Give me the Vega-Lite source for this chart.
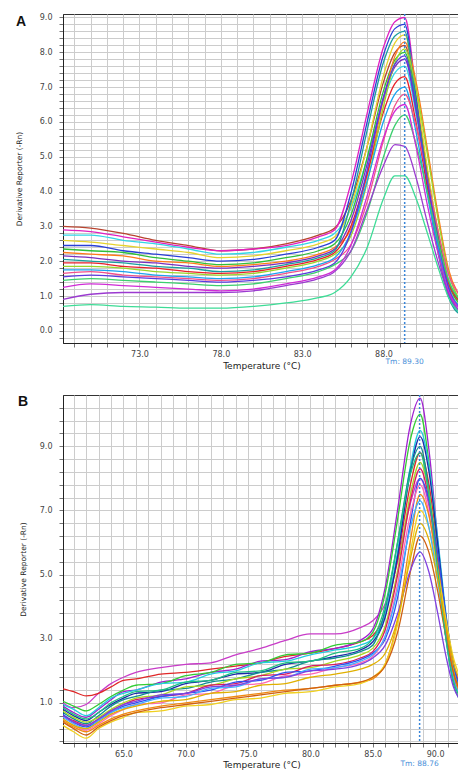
{
"$schema": "https://vega.github.io/schema/vega-lite/v6.json",
"background": "white",
"padding": {"left": 14, "top": 12, "right": 0, "bottom": 0},
"bounds": "flush",
"spacing": 52,
"config": {
  "view": {"stroke": "#333", "strokeWidth": 1},
  "font": "DejaVu Sans",
  "axis": {"gridColor": "#cccccc", "gridWidth": 1, "gridOpacity": 1, "domainColor": "#222", "tickColor": "#777", "tickSize": 4, "tickCount": 200, "labelFont": "DejaVu Sans", "labelFontSize": 8, "labelColor": "#444", "titleFont": "DejaVu Sans", "titleFontWeight": "normal", "titleColor": "#222", "labelOverlap": false, "labelFlush": false, "labelBound": false}
},
"datasets": {
"tm": [{"p": "A", "tm": 89.3, "label": "Tm: 89.30"}, {"p": "B", "tm": 88.76, "label": "Tm: 88.76"}],
"a": [
{"c":"a01","t":68.3,"v":3.0},{"c":"a01","t":70,"v":2.95},{"c":"a01","t":72,"v":2.8},{"c":"a01","t":74,"v":2.6},{"c":"a01","t":76,"v":2.45},{"c":"a01","t":78,"v":2.3},{"c":"a01","t":80,"v":2.35},{"c":"a01","t":82,"v":2.5},{"c":"a01","t":84,"v":2.75},{"c":"a01","t":85,"v":2.95},{"c":"a01","t":86,"v":3.74},{"c":"a01","t":87,"v":5.31},{"c":"a01","t":88,"v":7.15},{"c":"a01","t":88.7,"v":7.99},{"c":"a01","t":89.3,"v":8.2},{"c":"a01","t":90,"v":6.68},{"c":"a01","t":90.7,"v":4.55},{"c":"a01","t":91.4,"v":2.73},{"c":"a01","t":92,"v":1.44},{"c":"a01","t":92.7,"v":0.83},
{"c":"a02","t":68.3,"v":2.9},{"c":"a02","t":70,"v":2.85},{"c":"a02","t":72,"v":2.7},{"c":"a02","t":74,"v":2.55},{"c":"a02","t":76,"v":2.4},{"c":"a02","t":78,"v":2.3},{"c":"a02","t":80,"v":2.35},{"c":"a02","t":82,"v":2.45},{"c":"a02","t":84,"v":2.7},{"c":"a02","t":85,"v":2.9},{"c":"a02","t":86,"v":4.24},{"c":"a02","t":87,"v":6.26},{"c":"a02","t":88,"v":8.15},{"c":"a02","t":88.7,"v":8.88},{"c":"a02","t":89.3,"v":9.0},{"c":"a02","t":90,"v":6.85},{"c":"a02","t":90.7,"v":4.27},{"c":"a02","t":91.4,"v":2.29},{"c":"a02","t":92,"v":1.09},{"c":"a02","t":92.7,"v":0.57},
{"c":"a03","t":68.3,"v":2.75},{"c":"a03","t":70,"v":2.75},{"c":"a03","t":72,"v":2.6},{"c":"a03","t":74,"v":2.5},{"c":"a03","t":76,"v":2.35},{"c":"a03","t":78,"v":2.2},{"c":"a03","t":80,"v":2.25},{"c":"a03","t":82,"v":2.4},{"c":"a03","t":84,"v":2.6},{"c":"a03","t":85,"v":2.8},{"c":"a03","t":86,"v":3.52},{"c":"a03","t":87,"v":4.96},{"c":"a03","t":88,"v":6.64},{"c":"a03","t":88.7,"v":7.41},{"c":"a03","t":89.3,"v":7.6},{"c":"a03","t":90,"v":6.22},{"c":"a03","t":90.7,"v":4.29},{"c":"a03","t":91.4,"v":2.63},{"c":"a03","t":92,"v":1.46},{"c":"a03","t":92.7,"v":0.91},
{"c":"a04","t":68.3,"v":2.6},{"c":"a04","t":70,"v":2.55},{"c":"a04","t":72,"v":2.45},{"c":"a04","t":74,"v":2.35},{"c":"a04","t":76,"v":2.25},{"c":"a04","t":78,"v":2.1},{"c":"a04","t":80,"v":2.15},{"c":"a04","t":82,"v":2.3},{"c":"a04","t":84,"v":2.5},{"c":"a04","t":85,"v":2.7},{"c":"a04","t":86,"v":3.57},{"c":"a04","t":87,"v":5.31},{"c":"a04","t":88,"v":7.34},{"c":"a04","t":88.7,"v":8.27},{"c":"a04","t":89.3,"v":8.5},{"c":"a04","t":90,"v":6.9},{"c":"a04","t":90.7,"v":4.66},{"c":"a04","t":91.4,"v":2.74},{"c":"a04","t":92,"v":1.38},{"c":"a04","t":92.7,"v":0.74},
{"c":"a05","t":68.3,"v":2.45},{"c":"a05","t":70,"v":2.45},{"c":"a05","t":72,"v":2.3},{"c":"a05","t":74,"v":2.2},{"c":"a05","t":76,"v":2.1},{"c":"a05","t":78,"v":2.0},{"c":"a05","t":80,"v":2.05},{"c":"a05","t":82,"v":2.2},{"c":"a05","t":84,"v":2.4},{"c":"a05","t":85,"v":2.6},{"c":"a05","t":86,"v":3.96},{"c":"a05","t":87,"v":6.01},{"c":"a05","t":88,"v":7.93},{"c":"a05","t":88.7,"v":8.68},{"c":"a05","t":89.3,"v":8.8},{"c":"a05","t":90,"v":6.69},{"c":"a05","t":90.7,"v":4.15},{"c":"a05","t":91.4,"v":2.21},{"c":"a05","t":92,"v":1.03},{"c":"a05","t":92.7,"v":0.52},
{"c":"a06","t":68.3,"v":2.35},{"c":"a06","t":70,"v":2.3},{"c":"a06","t":72,"v":2.25},{"c":"a06","t":74,"v":2.1},{"c":"a06","t":76,"v":2.0},{"c":"a06","t":78,"v":1.9},{"c":"a06","t":80,"v":1.95},{"c":"a06","t":82,"v":2.1},{"c":"a06","t":84,"v":2.3},{"c":"a06","t":85,"v":2.5},{"c":"a06","t":86,"v":3.33},{"c":"a06","t":87,"v":4.98},{"c":"a06","t":88,"v":6.9},{"c":"a06","t":88.7,"v":7.78},{"c":"a06","t":89.3,"v":8.0},{"c":"a06","t":90,"v":6.51},{"c":"a06","t":90.7,"v":4.42},{"c":"a06","t":91.4,"v":2.64},{"c":"a06","t":92,"v":1.37},{"c":"a06","t":92.7,"v":0.77},
{"c":"a07","t":68.3,"v":2.25},{"c":"a07","t":70,"v":2.2},{"c":"a07","t":72,"v":2.15},{"c":"a07","t":74,"v":2.0},{"c":"a07","t":76,"v":1.95},{"c":"a07","t":78,"v":1.85},{"c":"a07","t":80,"v":1.9},{"c":"a07","t":82,"v":2.0},{"c":"a07","t":84,"v":2.2},{"c":"a07","t":85,"v":2.4},{"c":"a07","t":86,"v":2.93},{"c":"a07","t":87,"v":4.47},{"c":"a07","t":88,"v":6.65},{"c":"a07","t":88.7,"v":7.89},{"c":"a07","t":89.3,"v":8.3},{"c":"a07","t":90,"v":7.15},{"c":"a07","t":90.7,"v":5.22},{"c":"a07","t":91.4,"v":3.22},{"c":"a07","t":92,"v":1.76},{"c":"a07","t":92.7,"v":0.99},
{"c":"a08","t":68.3,"v":2.15},{"c":"a08","t":70,"v":2.1},{"c":"a08","t":72,"v":2.0},{"c":"a08","t":74,"v":1.95},{"c":"a08","t":76,"v":1.85},{"c":"a08","t":78,"v":1.8},{"c":"a08","t":80,"v":1.85},{"c":"a08","t":82,"v":1.95},{"c":"a08","t":84,"v":2.15},{"c":"a08","t":85,"v":2.35},{"c":"a08","t":86,"v":3.17},{"c":"a08","t":87,"v":4.8},{"c":"a08","t":88,"v":6.71},{"c":"a08","t":88.7,"v":7.58},{"c":"a08","t":89.3,"v":7.8},{"c":"a08","t":90,"v":6.33},{"c":"a08","t":90.7,"v":4.27},{"c":"a08","t":91.4,"v":2.51},{"c":"a08","t":92,"v":1.26},{"c":"a08","t":92.7,"v":0.67},
{"c":"a09","t":68.3,"v":2.05},{"c":"a09","t":70,"v":2.0},{"c":"a09","t":72,"v":1.95},{"c":"a09","t":74,"v":1.85},{"c":"a09","t":76,"v":1.8},{"c":"a09","t":78,"v":1.7},{"c":"a09","t":80,"v":1.75},{"c":"a09","t":82,"v":1.9},{"c":"a09","t":84,"v":2.1},{"c":"a09","t":85,"v":2.3},{"c":"a09","t":86,"v":3.69},{"c":"a09","t":87,"v":5.77},{"c":"a09","t":88,"v":7.72},{"c":"a09","t":88.7,"v":8.47},{"c":"a09","t":89.3,"v":8.6},{"c":"a09","t":90,"v":6.53},{"c":"a09","t":90.7,"v":4.04},{"c":"a09","t":91.4,"v":2.13},{"c":"a09","t":92,"v":0.96},{"c":"a09","t":92.7,"v":0.47},
{"c":"a10","t":68.3,"v":1.95},{"c":"a10","t":70,"v":1.95},{"c":"a10","t":72,"v":1.85},{"c":"a10","t":74,"v":1.8},{"c":"a10","t":76,"v":1.7},{"c":"a10","t":78,"v":1.65},{"c":"a10","t":80,"v":1.7},{"c":"a10","t":82,"v":1.85},{"c":"a10","t":84,"v":2.05},{"c":"a10","t":85,"v":2.25},{"c":"a10","t":86,"v":3.01},{"c":"a10","t":87,"v":4.52},{"c":"a10","t":88,"v":6.29},{"c":"a10","t":88.7,"v":7.1},{"c":"a10","t":89.3,"v":7.3},{"c":"a10","t":90,"v":5.97},{"c":"a10","t":90.7,"v":4.11},{"c":"a10","t":91.4,"v":2.51},{"c":"a10","t":92,"v":1.38},{"c":"a10","t":92.7,"v":0.85},
{"c":"a11","t":68.3,"v":1.85},{"c":"a11","t":70,"v":1.85},{"c":"a11","t":72,"v":1.8},{"c":"a11","t":74,"v":1.7},{"c":"a11","t":76,"v":1.65},{"c":"a11","t":78,"v":1.6},{"c":"a11","t":80,"v":1.65},{"c":"a11","t":82,"v":1.8},{"c":"a11","t":84,"v":2.0},{"c":"a11","t":85,"v":2.2},{"c":"a11","t":86,"v":2.73},{"c":"a11","t":87,"v":4.27},{"c":"a11","t":88,"v":6.45},{"c":"a11","t":88.7,"v":7.69},{"c":"a11","t":89.3,"v":8.1},{"c":"a11","t":90,"v":6.96},{"c":"a11","t":90.7,"v":5.06},{"c":"a11","t":91.4,"v":3.08},{"c":"a11","t":92,"v":1.64},{"c":"a11","t":92.7,"v":0.88},
{"c":"a12","t":68.3,"v":1.75},{"c":"a12","t":70,"v":1.75},{"c":"a12","t":72,"v":1.7},{"c":"a12","t":74,"v":1.6},{"c":"a12","t":76,"v":1.55},{"c":"a12","t":78,"v":1.5},{"c":"a12","t":80,"v":1.55},{"c":"a12","t":82,"v":1.7},{"c":"a12","t":84,"v":1.9},{"c":"a12","t":85,"v":2.1},{"c":"a12","t":86,"v":2.84},{"c":"a12","t":87,"v":4.31},{"c":"a12","t":88,"v":6.02},{"c":"a12","t":88.7,"v":6.8},{"c":"a12","t":89.3,"v":7.0},{"c":"a12","t":90,"v":5.7},{"c":"a12","t":90.7,"v":3.88},{"c":"a12","t":91.4,"v":2.32},{"c":"a12","t":92,"v":1.22},{"c":"a12","t":92.7,"v":0.7},
{"c":"a13","t":68.3,"v":1.65},{"c":"a13","t":70,"v":1.7},{"c":"a13","t":72,"v":1.6},{"c":"a13","t":74,"v":1.55},{"c":"a13","t":76,"v":1.5},{"c":"a13","t":78,"v":1.45},{"c":"a13","t":80,"v":1.5},{"c":"a13","t":82,"v":1.65},{"c":"a13","t":84,"v":1.85},{"c":"a13","t":85,"v":2.05},{"c":"a13","t":86,"v":2.48},{"c":"a13","t":87,"v":3.71},{"c":"a13","t":88,"v":5.47},{"c":"a13","t":88.7,"v":6.47},{"c":"a13","t":89.3,"v":6.8},{"c":"a13","t":90,"v":5.89},{"c":"a13","t":90.7,"v":4.36},{"c":"a13","t":91.4,"v":2.77},{"c":"a13","t":92,"v":1.62},{"c":"a13","t":92.7,"v":1.01},
{"c":"a14","t":68.3,"v":1.55},{"c":"a14","t":70,"v":1.6},{"c":"a14","t":72,"v":1.55},{"c":"a14","t":74,"v":1.5},{"c":"a14","t":76,"v":1.45},{"c":"a14","t":78,"v":1.4},{"c":"a14","t":80,"v":1.45},{"c":"a14","t":82,"v":1.55},{"c":"a14","t":84,"v":1.75},{"c":"a14","t":85,"v":1.95},{"c":"a14","t":86,"v":2.84},{"c":"a14","t":87,"v":4.63},{"c":"a14","t":88,"v":6.71},{"c":"a14","t":88.7,"v":7.66},{"c":"a14","t":89.3,"v":7.9},{"c":"a14","t":90,"v":6.4},{"c":"a14","t":90.7,"v":4.3},{"c":"a14","t":91.4,"v":2.5},{"c":"a14","t":92,"v":1.23},{"c":"a14","t":92.7,"v":0.63},
{"c":"a15","t":68.3,"v":1.45},{"c":"a15","t":70,"v":1.5},{"c":"a15","t":72,"v":1.45},{"c":"a15","t":74,"v":1.4},{"c":"a15","t":76,"v":1.35},{"c":"a15","t":78,"v":1.3},{"c":"a15","t":80,"v":1.35},{"c":"a15","t":82,"v":1.5},{"c":"a15","t":84,"v":1.7},{"c":"a15","t":85,"v":1.9},{"c":"a15","t":86,"v":2.29},{"c":"a15","t":87,"v":3.41},{"c":"a15","t":88,"v":5.0},{"c":"a15","t":88.7,"v":5.9},{"c":"a15","t":89.3,"v":6.2},{"c":"a15","t":90,"v":5.36},{"c":"a15","t":90.7,"v":3.96},{"c":"a15","t":91.4,"v":2.5},{"c":"a15","t":92,"v":1.44},{"c":"a15","t":92.7,"v":0.88},
{"c":"a16","t":68.3,"v":1.25},{"c":"a16","t":70,"v":1.35},{"c":"a16","t":72,"v":1.3},{"c":"a16","t":74,"v":1.25},{"c":"a16","t":76,"v":1.2},{"c":"a16","t":78,"v":1.15},{"c":"a16","t":80,"v":1.2},{"c":"a16","t":82,"v":1.35},{"c":"a16","t":84,"v":1.55},{"c":"a16","t":85,"v":1.75},{"c":"a16","t":86,"v":2.46},{"c":"a16","t":87,"v":3.89},{"c":"a16","t":88,"v":5.55},{"c":"a16","t":88.7,"v":6.31},{"c":"a16","t":89.3,"v":6.5},{"c":"a16","t":90,"v":5.29},{"c":"a16","t":90.7,"v":3.6},{"c":"a16","t":91.4,"v":2.14},{"c":"a16","t":92,"v":1.12},{"c":"a16","t":92.7,"v":0.63},
{"c":"a17","t":68.3,"v":0.9},{"c":"a17","t":70,"v":1.05},{"c":"a17","t":72,"v":1.1},{"c":"a17","t":74,"v":1.1},{"c":"a17","t":76,"v":1.1},{"c":"a17","t":78,"v":1.1},{"c":"a17","t":80,"v":1.15},{"c":"a17","t":82,"v":1.3},{"c":"a17","t":84,"v":1.5},{"c":"a17","t":85,"v":1.7},{"c":"a17","t":86,"v":2.3},{"c":"a17","t":87,"v":3.5},{"c":"a17","t":88,"v":4.75},{"c":"a17","t":88.7,"v":5.35},{"c":"a17","t":89.3,"v":5.3},{"c":"a17","t":90,"v":4.4},{"c":"a17","t":90.7,"v":3.1},{"c":"a17","t":91.4,"v":1.9},{"c":"a17","t":92,"v":1.05},{"c":"a17","t":92.7,"v":0.55},
{"c":"a18","t":68.3,"v":0.7},{"c":"a18","t":70,"v":0.75},{"c":"a18","t":72,"v":0.7},{"c":"a18","t":74,"v":0.68},{"c":"a18","t":76,"v":0.65},{"c":"a18","t":78,"v":0.65},{"c":"a18","t":80,"v":0.7},{"c":"a18","t":82,"v":0.8},{"c":"a18","t":84,"v":0.95},{"c":"a18","t":85,"v":1.1},{"c":"a18","t":86,"v":1.55},{"c":"a18","t":87,"v":2.4},{"c":"a18","t":88,"v":3.8},{"c":"a18","t":88.7,"v":4.45},{"c":"a18","t":89.3,"v":4.45},{"c":"a18","t":90,"v":3.8},{"c":"a18","t":90.7,"v":2.8},{"c":"a18","t":91.4,"v":1.75},{"c":"a18","t":92,"v":0.95},{"c":"a18","t":92.7,"v":0.5}
],
"b": [
{"c":"b01","t":60.15,"v":1.0},{"c":"b01","t":61,"v":0.85},{"c":"b01","t":62,"v":0.95},{"c":"b01","t":63,"v":1.3},{"c":"b01","t":64,"v":1.6},{"c":"b01","t":65,"v":1.8},{"c":"b01","t":66,"v":1.95},{"c":"b01","t":68,"v":2.1},{"c":"b01","t":70,"v":2.2},{"c":"b01","t":72,"v":2.25},{"c":"b01","t":74,"v":2.5},{"c":"b01","t":76,"v":2.7},{"c":"b01","t":78,"v":2.95},{"c":"b01","t":80,"v":3.15},{"c":"b01","t":82,"v":3.15},{"c":"b01","t":84,"v":3.35},{"c":"b01","t":85,"v":3.56},{"c":"b01","t":86,"v":4.09},{"c":"b01","t":87,"v":5.42},{"c":"b01","t":88,"v":7.2},{"c":"b01","t":88.8,"v":8.0},{"c":"b01","t":89.5,"v":7.16},{"c":"b01","t":90.2,"v":5.4},{"c":"b01","t":90.9,"v":3.45},{"c":"b01","t":91.5,"v":2.15},{"c":"b01","t":92,"v":1.63},
{"c":"b02","t":60.15,"v":1.44},{"c":"b02","t":61,"v":1.35},{"c":"b02","t":62,"v":1.22},{"c":"b02","t":63,"v":1.3},{"c":"b02","t":64,"v":1.5},{"c":"b02","t":65,"v":1.7},{"c":"b02","t":66,"v":1.75},{"c":"b02","t":68,"v":1.9},{"c":"b02","t":70,"v":1.95},{"c":"b02","t":72,"v":2.05},{"c":"b02","t":74,"v":2.15},{"c":"b02","t":76,"v":2.25},{"c":"b02","t":78,"v":2.45},{"c":"b02","t":80,"v":2.55},{"c":"b02","t":82,"v":2.7},{"c":"b02","t":84,"v":2.9},{"c":"b02","t":85,"v":3.1},{"c":"b02","t":86,"v":3.78},{"c":"b02","t":87,"v":5.49},{"c":"b02","t":88,"v":7.77},{"c":"b02","t":88.8,"v":8.8},{"c":"b02","t":89.5,"v":7.84},{"c":"b02","t":90.2,"v":5.84},{"c":"b02","t":90.9,"v":3.62},{"c":"b02","t":91.5,"v":2.14},{"c":"b02","t":92,"v":1.55},
{"c":"b03","t":60.15,"v":0.9},{"c":"b03","t":61,"v":0.7},{"c":"b03","t":62,"v":0.55},{"c":"b03","t":63,"v":0.8},{"c":"b03","t":64,"v":1.1},{"c":"b03","t":65,"v":1.35},{"c":"b03","t":66,"v":1.4},{"c":"b03","t":68,"v":1.65},{"c":"b03","t":70,"v":1.75},{"c":"b03","t":72,"v":1.95},{"c":"b03","t":74,"v":2.05},{"c":"b03","t":76,"v":2.3},{"c":"b03","t":78,"v":2.35},{"c":"b03","t":80,"v":2.6},{"c":"b03","t":82,"v":2.7},{"c":"b03","t":84,"v":2.95},{"c":"b03","t":85,"v":3.3},{"c":"b03","t":86,"v":4.6},{"c":"b03","t":87,"v":7.04},{"c":"b03","t":88,"v":9.64},{"c":"b03","t":88.8,"v":10.5},{"c":"b03","t":89.5,"v":8.92},{"c":"b03","t":90.2,"v":6.13},{"c":"b03","t":90.9,"v":3.43},{"c":"b03","t":91.5,"v":1.85},{"c":"b03","t":92,"v":1.29},
{"c":"b04","t":60.15,"v":1.05},{"c":"b04","t":61,"v":0.9},{"c":"b04","t":62,"v":0.75},{"c":"b04","t":63,"v":0.95},{"c":"b04","t":64,"v":1.2},{"c":"b04","t":65,"v":1.4},{"c":"b04","t":66,"v":1.55},{"c":"b04","t":68,"v":1.6},{"c":"b04","t":70,"v":1.85},{"c":"b04","t":72,"v":1.95},{"c":"b04","t":74,"v":2.2},{"c":"b04","t":76,"v":2.25},{"c":"b04","t":78,"v":2.5},{"c":"b04","t":80,"v":2.55},{"c":"b04","t":82,"v":2.8},{"c":"b04","t":84,"v":2.9},{"c":"b04","t":85,"v":3.2},{"c":"b04","t":86,"v":4.42},{"c":"b04","t":87,"v":6.74},{"c":"b04","t":88,"v":9.18},{"c":"b04","t":88.8,"v":10.0},{"c":"b04","t":89.5,"v":8.52},{"c":"b04","t":90.2,"v":5.91},{"c":"b04","t":90.9,"v":3.39},{"c":"b04","t":91.5,"v":1.91},{"c":"b04","t":92,"v":1.39},
{"c":"b05","t":60.15,"v":0.95},{"c":"b05","t":61,"v":0.8},{"c":"b05","t":62,"v":0.6},{"c":"b05","t":63,"v":0.85},{"c":"b05","t":64,"v":1.15},{"c":"b05","t":65,"v":1.3},{"c":"b05","t":66,"v":1.4},{"c":"b05","t":68,"v":1.6},{"c":"b05","t":70,"v":1.65},{"c":"b05","t":72,"v":1.9},{"c":"b05","t":74,"v":2.0},{"c":"b05","t":76,"v":2.25},{"c":"b05","t":78,"v":2.3},{"c":"b05","t":80,"v":2.5},{"c":"b05","t":82,"v":2.65},{"c":"b05","t":84,"v":2.8},{"c":"b05","t":85,"v":3.0},{"c":"b05","t":86,"v":3.78},{"c":"b05","t":87,"v":5.73},{"c":"b05","t":88,"v":8.33},{"c":"b05","t":88.8,"v":9.5},{"c":"b05","t":89.5,"v":8.42},{"c":"b05","t":90.2,"v":6.18},{"c":"b05","t":90.9,"v":3.69},{"c":"b05","t":91.5,"v":2.03},{"c":"b05","t":92,"v":1.37},
{"c":"b06","t":60.15,"v":0.8},{"c":"b06","t":61,"v":0.6},{"c":"b06","t":62,"v":0.45},{"c":"b06","t":63,"v":0.7},{"c":"b06","t":64,"v":0.95},{"c":"b06","t":65,"v":1.15},{"c":"b06","t":66,"v":1.3},{"c":"b06","t":68,"v":1.35},{"c":"b06","t":70,"v":1.6},{"c":"b06","t":72,"v":1.7},{"c":"b06","t":74,"v":1.9},{"c":"b06","t":76,"v":1.95},{"c":"b06","t":78,"v":2.2},{"c":"b06","t":80,"v":2.3},{"c":"b06","t":82,"v":2.45},{"c":"b06","t":84,"v":2.65},{"c":"b06","t":85,"v":2.9},{"c":"b06","t":86,"v":3.67},{"c":"b06","t":87,"v":5.59},{"c":"b06","t":88,"v":8.15},{"c":"b06","t":88.8,"v":9.3},{"c":"b06","t":89.5,"v":8.23},{"c":"b06","t":90.2,"v":6.02},{"c":"b06","t":90.9,"v":3.56},{"c":"b06","t":91.5,"v":1.92},{"c":"b06","t":92,"v":1.26},
{"c":"b07","t":60.15,"v":0.7},{"c":"b07","t":61,"v":0.5},{"c":"b07","t":62,"v":0.35},{"c":"b07","t":63,"v":0.6},{"c":"b07","t":64,"v":0.9},{"c":"b07","t":65,"v":1.1},{"c":"b07","t":66,"v":1.2},{"c":"b07","t":68,"v":1.4},{"c":"b07","t":70,"v":1.45},{"c":"b07","t":72,"v":1.65},{"c":"b07","t":74,"v":1.75},{"c":"b07","t":76,"v":1.95},{"c":"b07","t":78,"v":2.05},{"c":"b07","t":80,"v":2.3},{"c":"b07","t":82,"v":2.4},{"c":"b07","t":84,"v":2.6},{"c":"b07","t":85,"v":2.8},{"c":"b07","t":86,"v":3.92},{"c":"b07","t":87,"v":6.02},{"c":"b07","t":88,"v":8.26},{"c":"b07","t":88.8,"v":9.0},{"c":"b07","t":89.5,"v":7.64},{"c":"b07","t":90.2,"v":5.24},{"c":"b07","t":90.9,"v":2.92},{"c":"b07","t":91.5,"v":1.56},{"c":"b07","t":92,"v":1.08},
{"c":"b08","t":60.15,"v":0.75},{"c":"b08","t":61,"v":0.55},{"c":"b08","t":62,"v":0.4},{"c":"b08","t":63,"v":0.55},{"c":"b08","t":64,"v":0.8},{"c":"b08","t":65,"v":1.0},{"c":"b08","t":66,"v":1.15},{"c":"b08","t":68,"v":1.25},{"c":"b08","t":70,"v":1.5},{"c":"b08","t":72,"v":1.55},{"c":"b08","t":74,"v":1.75},{"c":"b08","t":76,"v":1.85},{"c":"b08","t":78,"v":2.05},{"c":"b08","t":80,"v":2.1},{"c":"b08","t":82,"v":2.3},{"c":"b08","t":84,"v":2.5},{"c":"b08","t":85,"v":2.7},{"c":"b08","t":86,"v":3.4},{"c":"b08","t":87,"v":5.14},{"c":"b08","t":88,"v":7.46},{"c":"b08","t":88.8,"v":8.5},{"c":"b08","t":89.5,"v":7.56},{"c":"b08","t":90.2,"v":5.62},{"c":"b08","t":90.9,"v":3.46},{"c":"b08","t":91.5,"v":2.02},{"c":"b08","t":92,"v":1.44},
{"c":"b09","t":60.15,"v":0.6},{"c":"b09","t":61,"v":0.45},{"c":"b09","t":62,"v":0.3},{"c":"b09","t":63,"v":0.5},{"c":"b09","t":64,"v":0.75},{"c":"b09","t":65,"v":0.95},{"c":"b09","t":66,"v":1.1},{"c":"b09","t":68,"v":1.2},{"c":"b09","t":70,"v":1.3},{"c":"b09","t":72,"v":1.55},{"c":"b09","t":74,"v":1.6},{"c":"b09","t":76,"v":1.85},{"c":"b09","t":78,"v":1.9},{"c":"b09","t":80,"v":2.15},{"c":"b09","t":82,"v":2.2},{"c":"b09","t":84,"v":2.4},{"c":"b09","t":85,"v":2.6},{"c":"b09","t":86,"v":3.28},{"c":"b09","t":87,"v":4.99},{"c":"b09","t":88,"v":7.27},{"c":"b09","t":88.8,"v":8.3},{"c":"b09","t":89.5,"v":7.36},{"c":"b09","t":90.2,"v":5.42},{"c":"b09","t":90.9,"v":3.26},{"c":"b09","t":91.5,"v":1.82},{"c":"b09","t":92,"v":1.24},
{"c":"b10","t":60.15,"v":0.65},{"c":"b10","t":61,"v":0.4},{"c":"b10","t":62,"v":0.25},{"c":"b10","t":63,"v":0.45},{"c":"b10","t":64,"v":0.7},{"c":"b10","t":65,"v":0.9},{"c":"b10","t":66,"v":1.0},{"c":"b10","t":68,"v":1.2},{"c":"b10","t":70,"v":1.3},{"c":"b10","t":72,"v":1.4},{"c":"b10","t":74,"v":1.65},{"c":"b10","t":76,"v":1.7},{"c":"b10","t":78,"v":1.95},{"c":"b10","t":80,"v":2.0},{"c":"b10","t":82,"v":2.15},{"c":"b10","t":84,"v":2.35},{"c":"b10","t":85,"v":2.55},{"c":"b10","t":86,"v":2.99},{"c":"b10","t":87,"v":4.29},{"c":"b10","t":88,"v":6.58},{"c":"b10","t":88.8,"v":8.0},{"c":"b10","t":89.5,"v":7.32},{"c":"b10","t":90.2,"v":5.69},{"c":"b10","t":90.9,"v":3.65},{"c":"b10","t":91.5,"v":2.15},{"c":"b10","t":92,"v":1.47},
{"c":"b11","t":60.15,"v":0.5},{"c":"b11","t":61,"v":0.3},{"c":"b11","t":62,"v":0.15},{"c":"b11","t":63,"v":0.35},{"c":"b11","t":64,"v":0.6},{"c":"b11","t":65,"v":0.8},{"c":"b11","t":66,"v":0.95},{"c":"b11","t":68,"v":1.0},{"c":"b11","t":70,"v":1.25},{"c":"b11","t":72,"v":1.3},{"c":"b11","t":74,"v":1.55},{"c":"b11","t":76,"v":1.6},{"c":"b11","t":78,"v":1.85},{"c":"b11","t":80,"v":1.9},{"c":"b11","t":82,"v":2.1},{"c":"b11","t":84,"v":2.25},{"c":"b11","t":85,"v":2.45},{"c":"b11","t":86,"v":3.09},{"c":"b11","t":87,"v":4.7},{"c":"b11","t":88,"v":6.84},{"c":"b11","t":88.8,"v":7.8},{"c":"b11","t":89.5,"v":6.92},{"c":"b11","t":90.2,"v":5.08},{"c":"b11","t":90.9,"v":3.04},{"c":"b11","t":91.5,"v":1.68},{"c":"b11","t":92,"v":1.14},
{"c":"b12","t":60.15,"v":0.45},{"c":"b12","t":61,"v":0.25},{"c":"b12","t":62,"v":0.1},{"c":"b12","t":63,"v":0.3},{"c":"b12","t":64,"v":0.5},{"c":"b12","t":65,"v":0.65},{"c":"b12","t":66,"v":0.75},{"c":"b12","t":68,"v":0.9},{"c":"b12","t":70,"v":1.0},{"c":"b12","t":72,"v":1.1},{"c":"b12","t":74,"v":1.2},{"c":"b12","t":76,"v":1.3},{"c":"b12","t":78,"v":1.4},{"c":"b12","t":80,"v":1.45},{"c":"b12","t":82,"v":1.55},{"c":"b12","t":84,"v":1.65},{"c":"b12","t":85,"v":1.75},{"c":"b12","t":86,"v":2.21},{"c":"b12","t":87,"v":3.59},{"c":"b12","t":88,"v":6.01},{"c":"b12","t":88.8,"v":7.5},{"c":"b12","t":89.5,"v":6.85},{"c":"b12","t":90.2,"v":5.29},{"c":"b12","t":90.9,"v":3.34},{"c":"b12","t":91.5,"v":1.91},{"c":"b12","t":92,"v":1.26},
{"c":"b13","t":60.15,"v":0.3},{"c":"b13","t":61,"v":0.1},{"c":"b13","t":62,"v":-0.1},{"c":"b13","t":63,"v":0.2},{"c":"b13","t":64,"v":0.4},{"c":"b13","t":65,"v":0.55},{"c":"b13","t":66,"v":0.7},{"c":"b13","t":68,"v":0.75},{"c":"b13","t":70,"v":0.9},{"c":"b13","t":72,"v":0.95},{"c":"b13","t":74,"v":1.1},{"c":"b13","t":76,"v":1.15},{"c":"b13","t":78,"v":1.3},{"c":"b13","t":80,"v":1.35},{"c":"b13","t":82,"v":1.5},{"c":"b13","t":84,"v":1.6},{"c":"b13","t":85,"v":1.8},{"c":"b13","t":86,"v":2.22},{"c":"b13","t":87,"v":3.46},{"c":"b13","t":88,"v":5.65},{"c":"b13","t":88.8,"v":7.0},{"c":"b13","t":89.5,"v":6.46},{"c":"b13","t":90.2,"v":5.16},{"c":"b13","t":90.9,"v":3.54},{"c":"b13","t":91.5,"v":2.36},{"c":"b13","t":92,"v":1.82},
{"c":"b14","t":60.15,"v":0.55},{"c":"b14","t":61,"v":0.35},{"c":"b14","t":62,"v":0.2},{"c":"b14","t":63,"v":0.45},{"c":"b14","t":64,"v":0.7},{"c":"b14","t":65,"v":0.85},{"c":"b14","t":66,"v":0.95},{"c":"b14","t":68,"v":1.15},{"c":"b14","t":70,"v":1.2},{"c":"b14","t":72,"v":1.45},{"c":"b14","t":74,"v":1.5},{"c":"b14","t":76,"v":1.75},{"c":"b14","t":78,"v":1.8},{"c":"b14","t":80,"v":2.05},{"c":"b14","t":82,"v":2.1},{"c":"b14","t":84,"v":2.3},{"c":"b14","t":85,"v":2.5},{"c":"b14","t":86,"v":3.08},{"c":"b14","t":87,"v":4.52},{"c":"b14","t":88,"v":6.44},{"c":"b14","t":88.8,"v":7.3},{"c":"b14","t":89.5,"v":6.49},{"c":"b14","t":90.2,"v":4.82},{"c":"b14","t":90.9,"v":2.96},{"c":"b14","t":91.5,"v":1.72},{"c":"b14","t":92,"v":1.22},
{"c":"b15","t":60.15,"v":0.4},{"c":"b15","t":61,"v":0.2},{"c":"b15","t":62,"v":0.0},{"c":"b15","t":63,"v":0.25},{"c":"b15","t":64,"v":0.45},{"c":"b15","t":65,"v":0.6},{"c":"b15","t":66,"v":0.7},{"c":"b15","t":68,"v":0.85},{"c":"b15","t":70,"v":0.95},{"c":"b15","t":72,"v":1.05},{"c":"b15","t":74,"v":1.15},{"c":"b15","t":76,"v":1.25},{"c":"b15","t":78,"v":1.35},{"c":"b15","t":80,"v":1.45},{"c":"b15","t":82,"v":1.55},{"c":"b15","t":84,"v":1.65},{"c":"b15","t":85,"v":1.8},{"c":"b15","t":86,"v":2.15},{"c":"b15","t":87,"v":3.21},{"c":"b15","t":88,"v":5.06},{"c":"b15","t":88.8,"v":6.2},{"c":"b15","t":89.5,"v":5.7},{"c":"b15","t":90.2,"v":4.5},{"c":"b15","t":90.9,"v":3.0},{"c":"b15","t":91.5,"v":1.9},{"c":"b15","t":92,"v":1.4},
{"c":"b16","t":60.15,"v":0.6},{"c":"b16","t":61,"v":0.4},{"c":"b16","t":62,"v":0.3},{"c":"b16","t":63,"v":0.5},{"c":"b16","t":64,"v":0.75},{"c":"b16","t":65,"v":0.95},{"c":"b16","t":66,"v":1.05},{"c":"b16","t":68,"v":1.25},{"c":"b16","t":70,"v":1.3},{"c":"b16","t":72,"v":1.5},{"c":"b16","t":74,"v":1.55},{"c":"b16","t":76,"v":1.75},{"c":"b16","t":78,"v":1.8},{"c":"b16","t":80,"v":2.0},{"c":"b16","t":82,"v":2.05},{"c":"b16","t":84,"v":2.2},{"c":"b16","t":85,"v":2.4},{"c":"b16","t":86,"v":2.8},{"c":"b16","t":87,"v":3.79},{"c":"b16","t":88,"v":5.11},{"c":"b16","t":88.8,"v":5.7},{"c":"b16","t":89.5,"v":5.09},{"c":"b16","t":90.2,"v":3.82},{"c":"b16","t":90.9,"v":2.41},{"c":"b16","t":91.5,"v":1.47},{"c":"b16","t":92,"v":1.09},
{"c":"b17","t":60.15,"v":0.85},{"c":"b17","t":61,"v":0.65},{"c":"b17","t":62,"v":0.5},{"c":"b17","t":63,"v":0.7},{"c":"b17","t":64,"v":1.0},{"c":"b17","t":65,"v":1.2},{"c":"b17","t":66,"v":1.35},{"c":"b17","t":68,"v":1.4},{"c":"b17","t":70,"v":1.65},{"c":"b17","t":72,"v":1.7},{"c":"b17","t":74,"v":1.95},{"c":"b17","t":76,"v":2.0},{"c":"b17","t":78,"v":2.25},{"c":"b17","t":80,"v":2.3},{"c":"b17","t":82,"v":2.55},{"c":"b17","t":84,"v":2.7},{"c":"b17","t":85,"v":3.0},{"c":"b17","t":86,"v":4.04},{"c":"b17","t":87,"v":6.02},{"c":"b17","t":88,"v":8.1},{"c":"b17","t":88.8,"v":8.8},{"c":"b17","t":89.5,"v":7.49},{"c":"b17","t":90.2,"v":5.18},{"c":"b17","t":90.9,"v":2.95},{"c":"b17","t":91.5,"v":1.64},{"c":"b17","t":92,"v":1.18},
{"c":"b18","t":60.15,"v":0.5},{"c":"b18","t":61,"v":0.3},{"c":"b18","t":62,"v":0.2},{"c":"b18","t":63,"v":0.4},{"c":"b18","t":64,"v":0.65},{"c":"b18","t":65,"v":0.8},{"c":"b18","t":66,"v":0.9},{"c":"b18","t":68,"v":1.05},{"c":"b18","t":70,"v":1.1},{"c":"b18","t":72,"v":1.3},{"c":"b18","t":74,"v":1.35},{"c":"b18","t":76,"v":1.55},{"c":"b18","t":78,"v":1.6},{"c":"b18","t":80,"v":1.8},{"c":"b18","t":82,"v":1.9},{"c":"b18","t":84,"v":2.05},{"c":"b18","t":85,"v":2.2},{"c":"b18","t":86,"v":2.55},{"c":"b18","t":87,"v":3.61},{"c":"b18","t":88,"v":5.46},{"c":"b18","t":88.8,"v":6.6},{"c":"b18","t":89.5,"v":6.09},{"c":"b18","t":90.2,"v":4.87},{"c":"b18","t":90.9,"v":3.34},{"c":"b18","t":91.5,"v":2.21},{"c":"b18","t":92,"v":1.7}
]
},
"vconcat": [
{
  "width": 397, "height": 329,
  "title": {"text": "A", "anchor": "start", "frame": "group", "offset": 0, "dx": -47, "dy": 30, "fontSize": 14, "font": "Liberation Sans", "fontWeight": "bold", "color": "#111", "baseline": "bottom"},
  "layer": [
    {
      "data": {"name": "a"},
      "mark": {"type": "line", "interpolate": "monotone", "strokeWidth": 1.3, "clip": true},
      "encoding": {
        "x": {"field": "t", "type": "quantitative", "scale": {"domain": [68.3, 92.7], "nice": false, "zero": false},
              "axis": {"values": [69,70,71,72,73,74,75,76,77,78,79,80,81,82,83,84,85,86,87,88,89,90,91,92], "tickCount": 200, "labelExpr": "(datum.value - 73) % 5 === 0 ? format(datum.value, '.1f') : ''", "tickSize": 4, "labelPadding": 3, "title": "Temperature (°C)", "titleFontSize": 9, "titlePadding": 3}},
        "y": {"field": "v", "type": "quantitative", "scale": {"domain": [-0.35, 9.1], "nice": false, "zero": false},
              "axis": {"values": [-0.2,0,0.2,0.4,0.6,0.8,1,1.2,1.4,1.6,1.8,2,2.2,2.4,2.6,2.8,3,3.2,3.4,3.6,3.8,4,4.2,4.4,4.6,4.8,5,5.2,5.4,5.6,5.8,6,6.2,6.4,6.6,6.8,7,7.2,7.4,7.6,7.8,8,8.2,8.4,8.6,8.8,9], "tickCount": 200, "labelExpr": "abs(datum.value - round(datum.value)) < 0.001 ? format(datum.value, '.1f') : ''", "tickSize": 4, "labelPadding": 7, "title": "Derivative Reporter (-Rn)", "titleFontSize": 7.5, "titlePadding": 16}},
        "color": {"field": "c", "type": "nominal", "legend": null,
                  "scale": {"range": ["#b8432f","#e020c0","#33d6e6","#e6d22e","#2a3fd6","#2fbf3a","#ff7a1a","#7a2fbf","#1a9e9e","#e8202a","#9ad62a","#1aa3f0","#f0508c","#5a3ae0","#3ccf6e","#d02ad6","#9b3ad0","#3ddc96","#c83cc8","#e02828","#a020d0","#33cc33","#22cce0","#1a2aa8","#109090","#a8d820","#d81b60","#3050f0","#ff66b3","#f08a10","#f0d020","#40b0ff","#d06010","#8040e0","#20c080","#e0b000"]}}
      }
    },
    {
      "data": {"name": "tm"},
      "transform": [{"filter": "datum.p === 'A'"}],
      "mark": {"type": "rule", "color": "#3a86d8", "strokeDash": [2, 2], "strokeWidth": 1.5},
      "encoding": {"x": {"field": "tm", "type": "quantitative"}}
    },
    {
      "data": {"name": "tm"},
      "transform": [{"filter": "datum.p === 'A'"}],
      "mark": {"type": "text", "color": "#4a90d9", "fontSize": 7.5, "font": "DejaVu Sans", "baseline": "middle", "align": "center"},
      "encoding": {"x": {"field": "tm", "type": "quantitative"}, "y": {"datum": -0.9}, "text": {"field": "label"}}
    }
  ]
},
{
  "width": 397, "height": 348,
  "title": {"text": "B", "anchor": "start", "frame": "group", "offset": 0, "dx": -45, "dy": 29, "fontSize": 14, "font": "Liberation Sans", "fontWeight": "bold", "color": "#111", "baseline": "bottom"},
  "layer": [
    {
      "data": {"name": "b"},
      "mark": {"type": "line", "interpolate": "monotone", "strokeWidth": 1.3, "clip": true},
      "encoding": {
        "x": {"field": "t", "type": "quantitative", "scale": {"domain": [60.15, 92], "nice": false, "zero": false},
              "axis": {"values": [61,62,63,64,65,66,67,68,69,70,71,72,73,74,75,76,77,78,79,80,81,82,83,84,85,86,87,88,89,90,91], "tickCount": 200, "labelExpr": "datum.value % 5 === 0 ? format(datum.value, '.1f') : ''", "tickSize": 4, "labelPadding": 3, "title": "Temperature (°C)", "titleFontSize": 9, "titlePadding": 2}},
        "y": {"field": "v", "type": "quantitative", "scale": {"domain": [-0.25, 10.6], "nice": false, "zero": false},
              "axis": {"values": [-0.2,0.2,0.6,1,1.4,1.8,2.2,2.6,3,3.4,3.8,4.2,4.6,5,5.4,5.8,6.2,6.6,7,7.4,7.8,8.2,8.6,9,9.4,9.8,10.2], "tickCount": 200, "labelExpr": "abs(datum.value - round(datum.value)) < 0.001 && round(datum.value) % 2 === 1 ? format(datum.value, '.1f') : ''", "tickSize": 4, "labelPadding": 7, "title": "Derivative Reporter (-Rn)", "titleFontSize": 7.5, "titlePadding": 12}},
        "color": {"field": "c", "type": "nominal", "legend": null}
      }
    },
    {
      "data": {"name": "tm"},
      "transform": [{"filter": "datum.p === 'B'"}],
      "mark": {"type": "rule", "color": "#3a86d8", "strokeDash": [2, 2], "strokeWidth": 1.5},
      "encoding": {"x": {"field": "tm", "type": "quantitative"}}
    },
    {
      "data": {"name": "tm"},
      "transform": [{"filter": "datum.p === 'B'"}],
      "mark": {"type": "text", "color": "#4a90d9", "fontSize": 7.5, "font": "DejaVu Sans", "baseline": "middle", "align": "center"},
      "encoding": {"x": {"field": "tm", "type": "quantitative"}, "y": {"datum": -0.9}, "text": {"field": "label"}}
    }
  ]
}
]
}
